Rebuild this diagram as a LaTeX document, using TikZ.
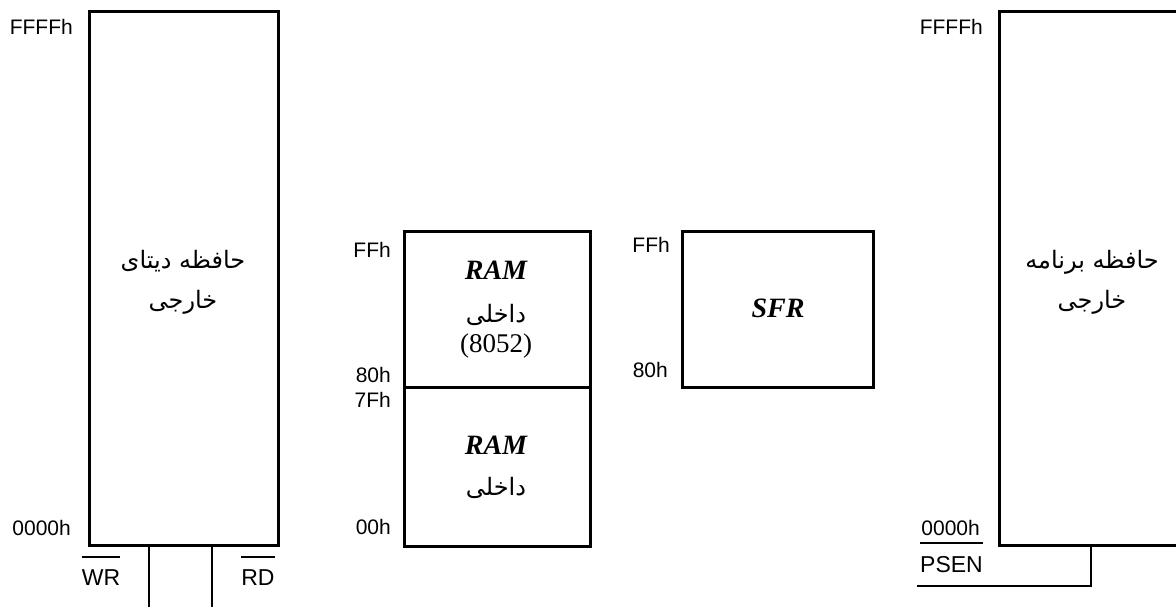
\documentclass[tikz,border=0pt]{standalone}
\usepackage{fontspec}
\setmainfont{Liberation Sans}
\newfontfamily\serifrm{Liberation Serif}
\newfontfamily\fa[Script=Arabic]{DejaVu Sans}
\TeXXeTstate=1
\tikzset{
  mem/.style={draw, line width=2.6pt, anchor=north west, inner sep=0pt},
  addr/.style={font=\fontsize{21}{24}\selectfont, anchor=east, inner sep=0pt},
  fatext/.style={font=\fa\fontsize{24}{40}\selectfont, align=center, inner sep=0pt},
  fasingle/.style={font=\fa\fontsize{24}{26}\selectfont, inner sep=0pt},
  ramlbl/.style={font=\serifrm\bfseries\itshape\fontsize{28}{30}\selectfont, inner sep=0pt},
  numlbl/.style={font=\serifrm\fontsize{27}{30}\selectfont, inner sep=0pt},
  sig/.style={font=\fontsize{23}{26}\selectfont, inner sep=0pt},
  wire/.style={line width=2.6pt},
  bar/.style={line width=2pt}
}
\begin{document}
\begin{tikzpicture}[x=1pt,y=-1pt]
\clip (0,0) rectangle (1176,607);
\fill[white] (0,0) rectangle (1176,607);

% boxes
\node[mem, minimum width=189pt, minimum height=534pt] (dmem) at (88,10) {};
\node[mem, minimum width=186pt, minimum height=156pt] (ramhi) at (403,230) {};
\node[mem, minimum width=186pt, minimum height=159pt] (ramlo) at (403,386) {};
\node[mem, minimum width=191pt, minimum height=156pt] (sfr) at (681,230) {};
\node[mem, minimum width=189pt, minimum height=534pt] (pmem) at (998,10) {};

% texts inside
\node[fatext] (dtxt) at (183,282) {\beginR حافظه دیتای\endR\\\beginR خارجی\endR};
\node[ramlbl] (ram1) at (496,270) {RAM};
\node[fasingle] (in1) at (496,315) {\beginR داخلی\endR};
\node[numlbl] (n8052) at (496,346) {(8052)};
\node[ramlbl] (ram2) at (496,445) {RAM};
\node[fasingle] (in2) at (496,488) {\beginR داخلی\endR};
\node[ramlbl] (sfrt) at (778,308) {SFR};
\node[fatext] (ptxt) at (1092,282) {\beginR حافظه برنامه\endR\\\beginR خارجی\endR};

% address labels
\node[addr] (a1) at (73,27) {FFFFh};
\node[addr] (a2) at (71,528) {0000h};
\node[addr] (a3) at (391,250) {FFh};
\node[addr] (a4) at (391,375) {80h};
\node[addr] (a5) at (391,400) {7Fh};
\node[addr] (a6) at (391,527) {00h};
\node[addr] (a7) at (670,245) {FFh};
\node[addr] (a8) at (668,370) {80h};
\node[addr] (a9) at (983,27) {FFFFh};
\node[addr] (a10) at (980,528) {0000h};

% signals
\coordinate (wrE) at (149,607);
\coordinate (rdE) at (212,607);
\draw[wire] (wrE |- dmem.south) -- (wrE);
\draw[wire] (rdE |- dmem.south) -- (rdE);
\node[sig] (wr) at (101,578) {WR};
\node[sig] (rd) at (258,578) {RD};
\draw[bar] ([yshift=13pt]wr.north west) -- ([yshift=13pt]wr.north east);
\draw[bar] ([yshift=13pt]rd.north west) -- ([yshift=13pt]rd.north east);

\coordinate (psB) at (1091,586);
\coordinate (psL) at (917,586);
\draw[wire] (psB |- pmem.south) -- (psB) -- (psL);
\node[sig, anchor=east] (psen) at (983,565) {PSEN};
\draw[bar] ([yshift=13.5pt]psen.north west) -- ([yshift=13.5pt]psen.north east);
\end{tikzpicture}
\end{document}
